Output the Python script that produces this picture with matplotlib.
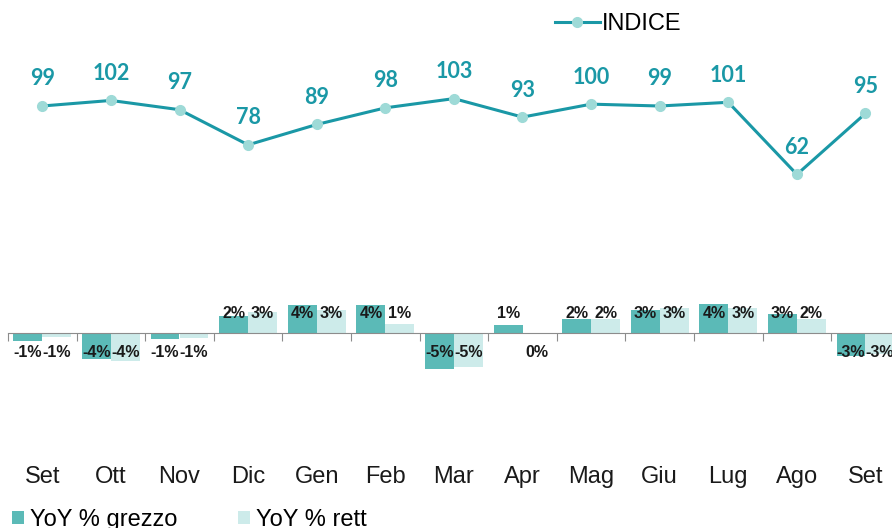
import numpy as np
import matplotlib
matplotlib.use('Agg')
import matplotlib.pyplot as plt

# Dati
mesi = ['Set', 'Ott', 'Nov', 'Dic', 'Gen', 'Feb', 'Mar', 'Apr', 'Mag', 'Giu', 'Lug', 'Ago', 'Set']
indice = [99, 102, 97, 78, 89, 98, 103, 93, 100, 99, 101, 62, 95]
yoy_grezzo = [-1.2, -3.7, -0.9, 2.3, 3.8, 3.8, -5.1, 1.1, 1.9, 3.2, 4.0, 2.6, -3.2]
yoy_rett = [-0.6, -3.9, -0.7, 2.9, 3.1, 1.25, -4.7, -0.2, 1.9, 3.4, 3.4, 1.9, -3.0]

plt.rcParams['font.family'] = ['Liberation Sans', 'DejaVu Sans']

col_grezzo = '#5bbab7'
col_rett = '#cdebea'
col_linea = '#1a98a6'
col_marker = '#9edad7'

fig = plt.figure(figsize=(8.92, 5.28), dpi=100)
ax = fig.add_axes([8 / 892, 1 - 440 / 528, 891.8 / 892, 400 / 528])

x = np.arange(len(mesi))
w = 0.42
b1 = ax.bar(x - w / 2, yoy_grezzo, w, color=col_grezzo, label='YoY % grezzo')
b2 = ax.bar(x + w / 2, yoy_rett, w, color=col_rett, label='YoY % rett')

# etichette delle barre
for serie, off in [(yoy_grezzo, -w / 2), (yoy_rett, w / 2)]:
    for i, v in enumerate(serie):
        yy = 2.65 if v >= 0 else -2.8
        ax.text(i + off, yy, f"{round(v)}%", ha='center', va='center',
                fontsize=11.5, fontweight='bold', color='#1a1a1a')

ax.set_xlim(-0.5, len(mesi) - 0.5)
ax.set_ylim(-(440 - 332.7) / 7.2, (332.7 - 40) / 7.2)
for s in ['top', 'right', 'left']:
    ax.spines[s].set_visible(False)
ax.spines['bottom'].set_position(('data', 0))
ax.spines['bottom'].set_color('#8c8c8c')
ax.set_xticks(np.arange(-0.5, len(mesi), 1))
ax.set_xticklabels([])
ax.tick_params(axis='x', length=6, color='#8c8c8c', direction='out')
ax.set_yticks([])

for i, m in enumerate(mesi):
    ax.text(i, -0.0925, m, transform=ax.get_xaxis_transform(), ha='center', va='center',
            fontsize=17, color='#1a1a1a', clip_on=False)

# linea indice
ax2 = ax.twinx()
ax2.plot(x, indice, color=col_linea, lw=2.2, marker='o', markersize=7,
         markerfacecolor=col_marker, markeredgecolor=col_marker, label='INDICE')
for i, v in enumerate(indice):
    ax2.annotate(str(v), (i, v), xytext=(0, 19.5), textcoords='offset points',
                 ha='center', va='center', fontsize=15.5, fontweight='bold',
                 color=col_linea, family=['Lato', 'DejaVu Sans'])
scala = 1.85
ax2.set_ylim(99 - (440 - 106) / scala, 99 + (106 - 40) / scala)
ax2.set_yticks([])
for s in ax2.spines.values():
    s.set_visible(False)

# legende
fig.legend(handles=[ax2.lines[0]], loc='center left', bbox_to_anchor=(555 / 892, 1 - 24 / 528),
           frameon=False, fontsize=17, handlelength=1.9, handletextpad=0.1,
           borderpad=0, borderaxespad=0)
fig.legend(handles=[b1, b2], loc='center left', bbox_to_anchor=(12 / 892, 1 - 520 / 528),
           frameon=False, fontsize=17, ncol=2, handlelength=0.5, handleheight=0.5,
           handletextpad=0.25, columnspacing=2.6, borderpad=0, borderaxespad=0)

fig.savefig('out.png', dpi=100)
